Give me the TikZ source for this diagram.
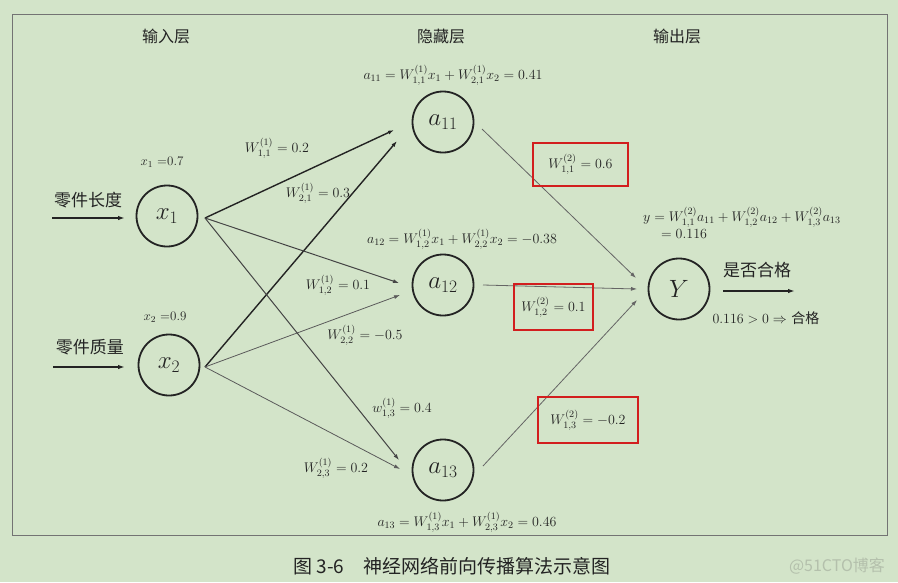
\RequirePackage{fix-cm}
\documentclass[tikz,border=0pt]{standalone}
\usepackage{fontspec}
\usepackage{amsmath}
\newfontfamily\cjk{Noto Sans CJK SC}
\usetikzlibrary{arrows.meta}
\definecolor{bg}{RGB}{211,228,201}
\definecolor{ink}{RGB}{35,35,35}
\definecolor{redbox}{RGB}{210,30,30}
\definecolor{wm}{RGB}{180,192,172}
\tikzset{
  neuron/.style={circle, draw=ink, line width=1.8pt, minimum size=61pt, inner sep=0pt, text=ink, font=\fontsize{25}{29}\selectfont},
  hdr/.style={inner sep=0pt, text=ink, font=\cjk\fontsize{16}{19}\selectfont},
  inlbl/.style={inner sep=0pt, text=ink, font=\cjk\fontsize{17}{20}\selectfont},
  lbl/.style={inner sep=0pt, text=ink, font=\fontsize{14}{16}\selectfont},
  slbl/.style={inner sep=0pt, text=ink, font=\fontsize{13}{15}\selectfont},
  rbox/.style={draw=redbox, line width=1.6pt, inner sep=0pt, text=ink, font=\fontsize{14}{16}\selectfont},
  thickw/.style={draw=ink, line width=1.4pt, -{Latex[length=6pt,width=4pt]}},
  midw/.style={draw=ink!85, line width=1pt, -{Latex[length=6pt,width=4pt]}},
  thinw/.style={draw=ink!75, line width=0.8pt, -{Latex[length=6pt,width=4pt]}},
  outw/.style={draw=ink!70, line width=0.8pt, -{Latex[length=6pt,width=4pt]}},
  ioarrow/.style={draw=ink, line width=1.4pt, -{Latex[length=7pt,width=4.5pt]}},
  frame/.style={draw=black!55, line width=0.8pt}
}
\begin{document}
\begin{tikzpicture}[x=1pt,y=-1pt]
\fill[bg] (0,0) rectangle (898,582);
\useasboundingbox (0,0) rectangle (898,582);
\draw[frame] (12,14) rectangle (887,535);

% headers
\node[hdr] (h1) at (166,36) {输入层};
\node[hdr] (h2) at (441,36) {隐藏层};
\node[hdr] (h3) at (677,36) {输出层};

% neurons
\node[neuron] (x1) at (167,216) {$x_1$};
\node[neuron] (x2) at (169,365) {$x_2$};
\node[neuron] (a11) at (443,122) {$a_{11}$};
\node[neuron] (a12) at (443,285) {$a_{12}$};
\node[neuron] (a13) at (443,470) {$a_{13}$};
\node[neuron] (Y) at (679,289) {$Y$};

% inputs
\node[inlbl] (in1) at (88,200) {零件长度};
\node[inlbl] (in2) at (90,347) {零件质量};
\coordinate (s1) at (52,218);
\coordinate (s2) at (53,367);
\draw[ioarrow] (s1) -- ([shift={(-42,2)}]x1.center);
\draw[ioarrow] (s2) -- ([shift={(-44,2)}]x2.center);
\node[slbl] (vx1) at (162,162) {$x_1$ =0.7};
\node[slbl] (vx2) at (165,317) {$x_2$ =0.9};

% layer 1 connections
\draw[thickw] ([shift={(38,2)}]x1.center) -- ([shift={(-49,8)}]a11.center);
\draw[thickw] ([shift={(36,2)}]x2.center) -- ([shift={(-46,19)}]a11.center);
\draw[midw] ([shift={(38,2)}]x1.center) -- ([shift={(-44,-2)}]a12.center);
\draw[thinw] ([shift={(36,2)}]x2.center) -- ([shift={(-43,10)}]a12.center);
\draw[midw] ([shift={(38,2)}]x1.center) -- ([shift={(-44,-10)}]a13.center);
\draw[thinw] ([shift={(36,2)}]x2.center) -- ([shift={(-43,-1)}]a13.center);

% layer 2 connections
\draw[outw] ([shift={(39,7)}]a11.center) -- ([shift={(-43,-11)}]Y.center);
\draw[outw] ([shift={(40,0)}]a12.center) -- ([shift={(-42,0)}]Y.center);
\draw[outw] ([shift={(40,-4)}]a13.center) -- ([shift={(-42,11)}]Y.center);

% output
\coordinate (oe) at (795,291);
\draw[ioarrow] ([shift={(44,2)}]Y.center) -- (oe);
\node[inlbl] (out1) at (757,270) {是否合格};
\node[lbl] (out2) at (766,318) {$0.116>0\Rightarrow$ {\cjk\fontsize{14}{16}\selectfont 合格}};

% formulas
\node[lbl] (fa11) at (453,75) {$a_{11}=W^{(1)}_{1,1}x_1+W^{(1)}_{2,1}x_2=0.41$};
\node[lbl] (fa12) at (462,239) {$a_{12}=W^{(1)}_{1,2}x_1+W^{(1)}_{2,2}x_2=-0.38$};
\node[lbl] (fa13) at (467,522) {$a_{13}=W^{(1)}_{1,3}x_1+W^{(1)}_{2,3}x_2=0.46$};
\node[lbl, anchor=west] (fy) at (643,217) {$y=W^{(2)}_{1,1}a_{11}+W^{(2)}_{1,2}a_{12}+W^{(2)}_{1,3}a_{13}$};
\node[lbl, anchor=west] (fy2) at (661,234) {$=0.116$};

% layer 1 weights
\node[lbl] (w11) at (277,148) {$W^{(1)}_{1,1}=0.2$};
\node[lbl] (w21) at (318,193) {$W^{(1)}_{2,1}=0.3$};
\node[lbl] (w12) at (338,285) {$W^{(1)}_{1,2}=0.1$};
\node[lbl] (w22) at (365,335) {$W^{(1)}_{2,2}=-0.5$};
\node[lbl] (w13) at (402,408) {$w^{(1)}_{1,3}=0.4$};
\node[lbl] (w23) at (336,468) {$W^{(1)}_{2,3}=0.2$};

% layer 2 weights (boxed)
\node[rbox, minimum width=95pt, minimum height=43pt] (v11) at (580.5,164.5) {$W^{(2)}_{1,1}=0.6$};
\node[rbox, minimum width=79pt, minimum height=46pt] (v12) at (553.5,307) {$W^{(2)}_{1,2}=0.1$};
\node[rbox, minimum width=100pt, minimum height=46pt] (v13) at (588,420) {$W^{(2)}_{1,3}=-0.2$};

% caption
\node[inner sep=0pt, text=ink, font=\cjk\fontsize{19}{22}\selectfont] (cap) at (452,566) {图 3-6\quad 神经网络前向传播算法示意图};
\node[inner sep=0pt, text=wm, font=\cjk\fontsize{16}{19}\selectfont] (wmk) at (837,566) {@51CTO博客};
\end{tikzpicture}
\end{document}
